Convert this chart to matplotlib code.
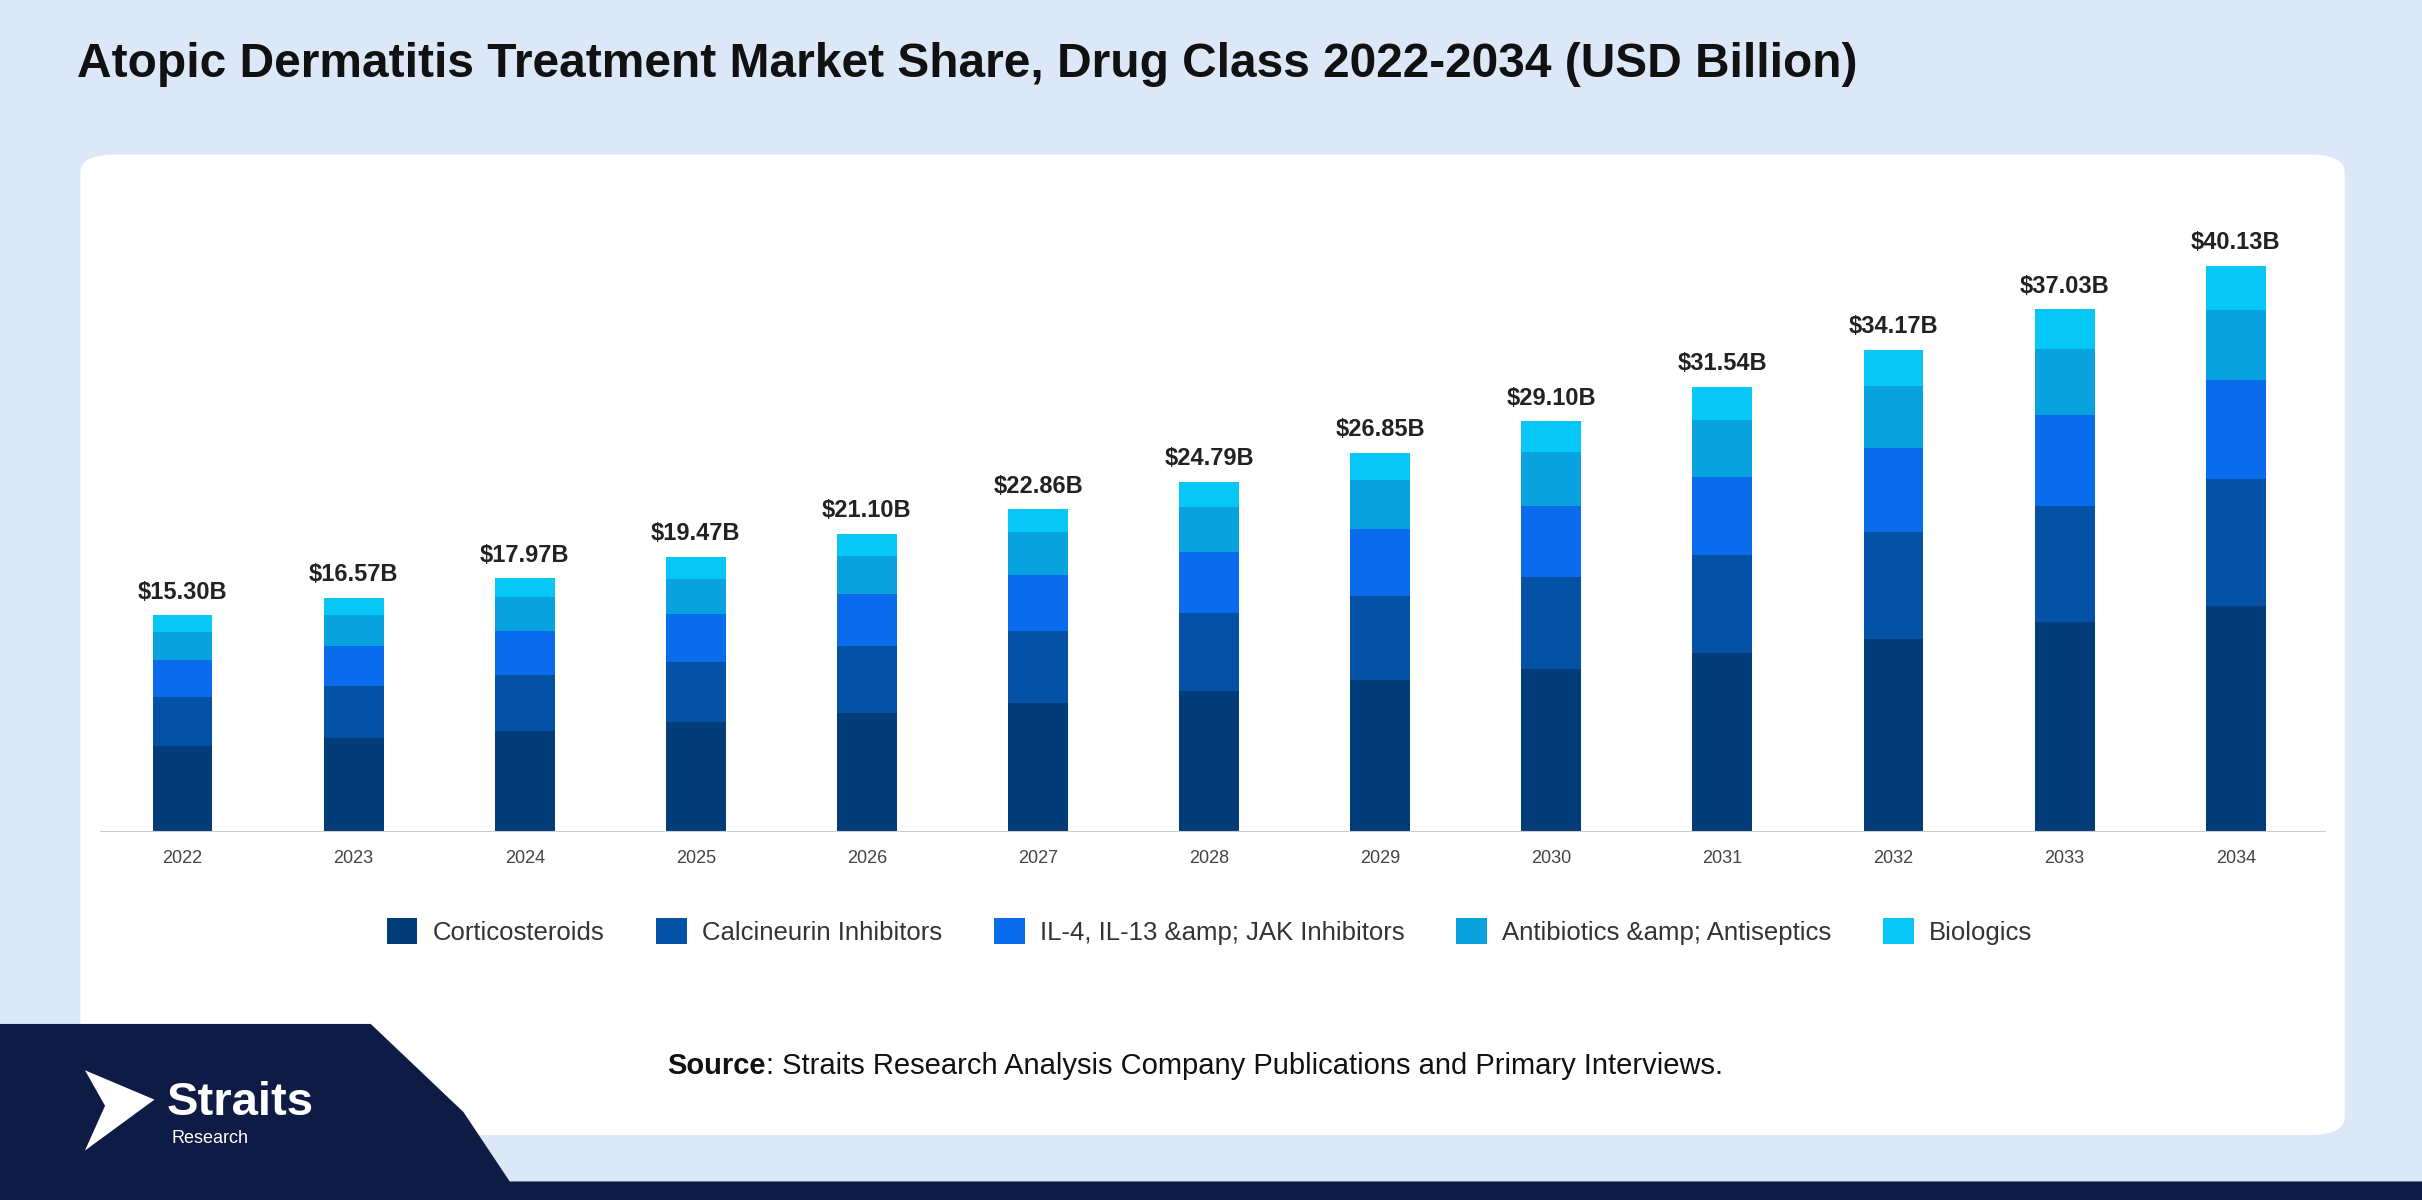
import matplotlib
matplotlib.use("Agg")
import matplotlib.pyplot as plt
from matplotlib.patches import FancyBboxPatch, Polygon
import numpy as np

plt.rcParams['font.family'] = ['Liberation Sans', 'DejaVu Sans']

years = ["2022","2023","2024","2025","2026","2027","2028","2029","2030","2031","2032","2033","2034"]
totals = [15.30,16.57,17.97,19.47,21.10,22.86,24.79,26.85,29.10,31.54,34.17,37.03,40.13]
corticosteroids = [6.0,6.6,7.1,7.7,8.4,9.1,9.9,10.7,11.5,12.6,13.6,14.8,16.0]
calcineurin = [3.5,3.7,4.0,4.3,4.7,5.1,5.6,6.0,6.5,7.0,7.6,8.3,9.0]
il_jak = [2.6,2.8,3.1,3.4,3.7,4.0,4.3,4.7,5.1,5.5,6.0,6.4,7.0]
antibiotics = [2.0,2.2,2.4,2.5,2.7,3.0,3.2,3.5,3.8,4.1,4.4,4.7,5.0]
biologics = [1.2,1.27,1.37,1.57,1.6,1.66,1.79,1.95,2.2,2.34,2.57,2.83,3.13]
series_names = ["Corticosteroids","Calcineurin Inhibitors","IL-4, IL-13 &amp; JAK Inhibitors",
                "Antibiotics &amp; Antiseptics","Biologics"]
colors = ["#033d79","#0452a6","#0a6cec","#08a2df","#07c7f7"]

fig = plt.figure(figsize=(24.22,12), dpi=100)
fig.patch.set_facecolor("#dce8f8")
W,H = 1568,777
def fx(x): return x/W
def fy(y): return 1-y/H

fig.patches.append(FancyBboxPatch((fx(52),fy(735)), fx(1518)-fx(52), fy(100)-fy(735),
    boxstyle="round,pad=0,rounding_size=0.015", transform=fig.transFigure,
    facecolor="white", edgecolor="none", zorder=0))
navy = "#0d1b45"
fig.patches.append(Polygon([(fx(0),fy(663)),(fx(240),fy(663)),(fx(300),fy(720)),(fx(330),fy(765)),
    (fx(1568),fy(765)),(fx(1568),fy(777)),(fx(0),fy(777))], closed=True,
    transform=fig.transFigure, facecolor=navy, edgecolor="none", zorder=1))
fig.patches.append(Polygon([(fx(55),fy(693)),(fx(100),fy(712)),(fx(55),fy(745)),(fx(68),fy(716))],
    closed=True, transform=fig.transFigure, facecolor="white", edgecolor="none", zorder=2))
fig.text(fx(108), fy(714), "Straits", color="white", fontsize=34, fontweight="bold", va="center", ha="left", zorder=3)
fig.text(fx(111), fy(737), "Research", color="white", fontsize=13, va="center", ha="left", zorder=3)

fig.text(fx(50), fy(42), "Atopic Dermatitis Treatment Market Share, Drug Class 2022-2034 (USD Billion)",
         fontsize=34.5, fontweight="bold", color="#111111", va="center", ha="left")

ax = fig.add_axes([fx(65), fy(538), fx(1505)-fx(65), fy(130)-fy(538)])
ax.set_zorder(5)
ax.set_facecolor("none")
x = np.arange(len(years))
bottom = np.zeros(len(years))
for vals, name, c in zip([corticosteroids,calcineurin,il_jak,antibiotics,biologics], series_names, colors):
    ax.bar(x - 0.02, vals, 0.35, bottom=bottom, color=c, label=name, zorder=2)
    bottom += np.array(vals)
for xi, t, b in zip(x, totals, bottom):
    ax.text(xi - 0.02, b + 0.8, f"${t:.2f}B", ha="center", va="bottom", fontsize=17, fontweight="bold", color="#222222")
ax.set_xlim(-0.5, len(years)-0.5)
ax.set_ylim(0, (538-130)/9.12)
ax.set_xticks(x - 0.02, years)
ax.tick_params(axis="x", length=0, labelsize=13, colors="#444444", pad=14)
ax.set_yticks([])
for s in ["top","right","left"]:
    ax.spines[s].set_visible(False)
ax.spines["bottom"].set_color("#cccccc")

leg = fig.legend(loc="center", bbox_to_anchor=(fx(783), fy(603)), ncol=5, frameon=False,
           fontsize=18.5, handlelength=1.2, handleheight=1.2, columnspacing=2.0, handletextpad=0.6,
           labelcolor="#333333")
leg.set_zorder(6)

t1 = fig.text(fx(432), fy(690), "Source", fontsize=21, fontweight="bold", ha="left", va="center",
              color="#111111", zorder=6)
fig.canvas.draw()
bb = t1.get_window_extent()
fig.text(bb.x1 / fig.bbox.width, fy(690), ": Straits Research Analysis Company Publications and Primary Interviews.",
         fontsize=21, ha="left", va="center", color="#111111", zorder=6)

fig.savefig("out.png", dpi=100, facecolor=fig.get_facecolor())
